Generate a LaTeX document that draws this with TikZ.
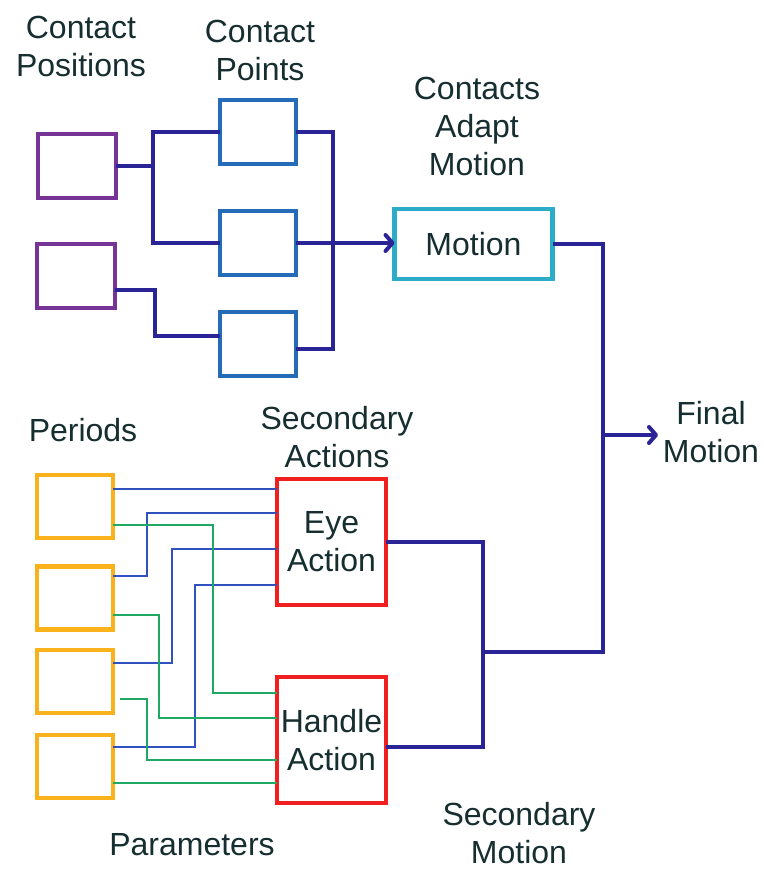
\documentclass[tikz,border=0pt]{standalone}
\usepackage{fontspec}
\setmainfont{Liberation Sans}
\usetikzlibrary{arrows.meta}

\definecolor{posviolet}{RGB}{118,52,150}
\definecolor{pointblue}{RGB}{36,108,184}
\definecolor{motioncyan}{RGB}{44,172,200}
\definecolor{flownavy}{RGB}{42,36,150}
\definecolor{periodorange}{RGB}{250,178,28}
\definecolor{actionred}{RGB}{240,32,32}
\definecolor{eyeblue}{RGB}{48,82,192}
\definecolor{handlegreen}{RGB}{30,170,100}
\definecolor{labelink}{RGB}{22,46,48}

\tikzset{
  blk/.style={draw, rectangle, line width=4.5pt, inner sep=0pt, outer sep=0pt, fill=white},
  posbox/.style={blk, draw=posviolet, minimum width=78pt, minimum height=64pt},
  ptbox/.style={blk, draw=pointblue, minimum width=76pt, minimum height=64pt},
  perbox/.style={blk, draw=periodorange, minimum width=76pt, minimum height=63pt},
  actbox/.style={blk, draw=actionred, minimum width=109pt, minimum height=126pt,
    text=labelink, font=\fontsize{32}{38}\selectfont, align=center},
  thick flow/.style={draw=flownavy, line width=4pt, line join=miter},
  flow arrow/.style={thick flow, -{Straight Barb[length=7pt,width=16pt,line width=4pt,round]}},
  eyewire/.style={draw=eyeblue, line width=2.2pt},
  handlewire/.style={draw=handlegreen, line width=2.2pt},
  lbl/.style={text=labelink, font=\fontsize{32}{38}\selectfont, align=center, inner sep=0pt}
}

\begin{document}
\begin{tikzpicture}[x=1pt, y=-1pt]
\useasboundingbox (0,0) rectangle (763,869);

% ---- labels ----
\node[lbl] (lpos)   at (81,46)   {Contact\\Positions};
\node[lbl] (lpts)   at (260,50)  {Contact\\Points};
\node[lbl] (ladapt) at (477,126) {Contacts\\Adapt\\Motion};
\node[lbl] (lper)   at (83,430)  {Periods};
\node[lbl] (lsec)   at (337,437) {Secondary\\Actions};
\node[lbl] (lpar)   at (192,845) {Parameters};
\node[lbl] (lsmo)   at (519,833) {Secondary\\Motion};
\node[lbl] (lfin)   at (711,432) {Final\\Motion};

% ---- contact stage ----
\node[posbox] (P1) at (77,166) {};
\node[posbox] (P2) at (76,276) {};
\node[ptbox]  (B1) at (258,132) {};
\node[ptbox]  (B2) at (258,243) {};
\node[ptbox]  (B3) at (258,344) {};
\node[blk, draw=motioncyan, minimum width=158pt, minimum height=70pt,
      text=labelink, font=\fontsize{32}{38}\selectfont] (M) at (473.5,244) {Motion};

\coordinate (jp) at (153,166);
\draw[thick flow] (P1.east) -- (jp);
\draw[thick flow] (B1.west) -| (jp) |- (B2.west);
\draw[thick flow] ([yshift=-14pt]P2.east) -- (155,290) |- ([yshift=8pt]B3.west);
\draw[thick flow] (B1.east) -| (333,349) -- ([yshift=-5pt]B3.east);
\draw[flow arrow] (B2.east) -- (M.west |- B2.east);

% ---- secondary actions ----
\node[perbox] (O1) at (75,506.5) {};
\node[perbox] (O2) at (75,598) {};
\node[perbox] (O3) at (75,681.5) {};
\node[perbox] (O4) at (75,766.5) {};
\node[actbox] (E) at (331.5,542) {Eye\\Action};
\node[actbox] (H) at (331.5,740) {Handle\\Action};

% wires into the eye action
\draw[eyewire] (O1.east |- 0,489) -- (E.west |- 0,489);
\draw[eyewire] (O2.east |- 0,576) -| (147,513) -- (E.west |- 0,513);
\draw[eyewire] (O3.east |- 0,663) -| (172,549) -- (E.west |- 0,549);
\draw[eyewire] (O4.east |- 0,747) -| (195,585) -- (E.west |- 0,585);

% wires into the handle action
\draw[handlewire] (O1.east |- 0,525) -| (213,693) -- (H.west |- 0,693);
\draw[handlewire] (O2.east |- 0,615) -| (159,718) -- (H.west |- 0,718);
\draw[handlewire] (120,699) -| (147,760) -- (H.west |- 0,760);
\draw[handlewire] (O4.east |- 0,783) -- (H.west |- 0,783);

% ---- merging into the final motion ----
\coordinate (js) at (483,652);
\coordinate (jf) at (603,435);
\draw[thick flow] (E.east) -| (js) |- ([yshift=-7pt]H.east);
\draw[thick flow] (M.east) -| (603,652) -- (js);
\draw[flow arrow] (jf) -- (658,435);
\end{tikzpicture}
\end{document}
